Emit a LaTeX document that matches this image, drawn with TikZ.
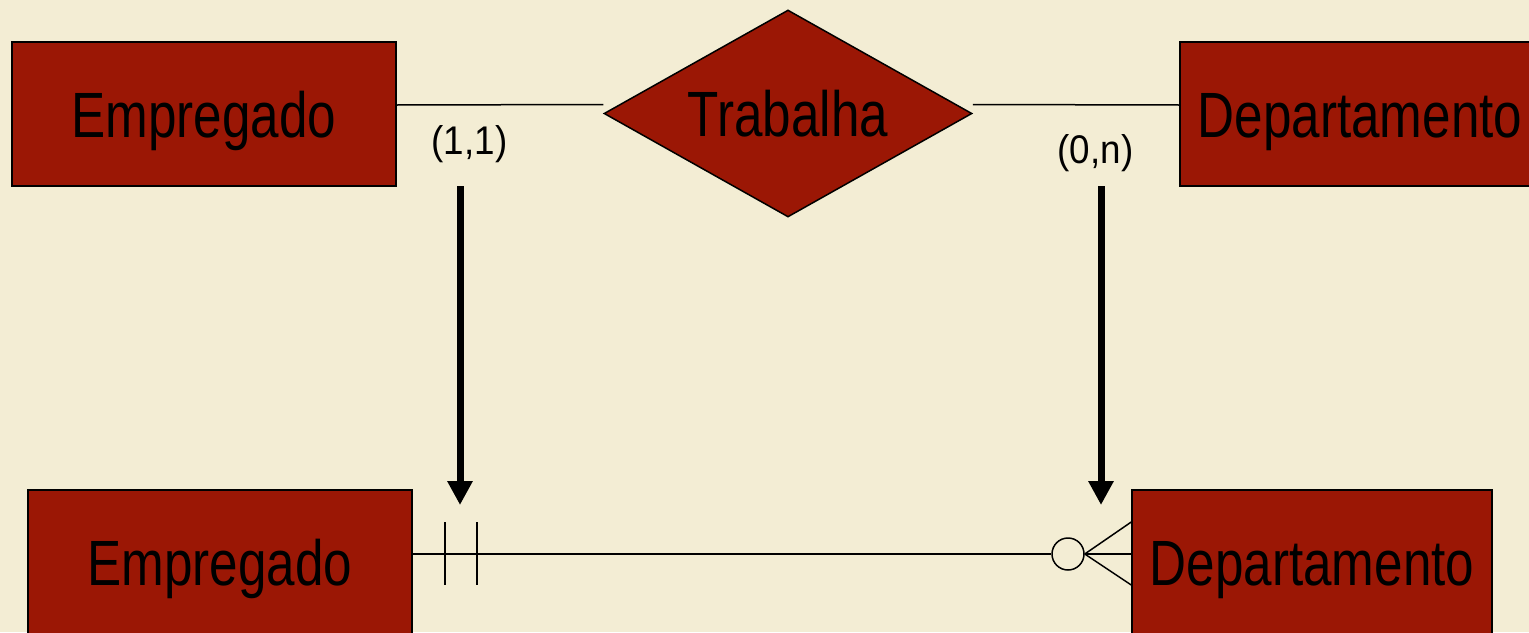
\documentclass[tikz,border=0pt]{standalone}
\usepackage{fontspec}
\setmainfont{Liberation Sans}
\usepackage{graphicx}
\usetikzlibrary{shapes.geometric,arrows.meta}
\definecolor{bg}{RGB}{243,237,212}
\definecolor{erred}{RGB}{155,23,5}
\newcommand\bigtxt{\fontsize{64}{64}\selectfont}
\newcommand\cardtxt{\fontsize{40}{40}\selectfont}
\newcommand\sqz[1]{\scalebox{0.8}[1]{#1}}
\newcommand\sqc[1]{\scalebox{0.92}[1]{#1}}
\tikzset{
  entity/.style={draw=black, line width=1.5pt, fill=erred, minimum width=384pt,
    minimum height=144pt, inner sep=0pt, text height=46pt, text depth=0pt, font=\bigtxt},
  relship/.style={draw=black, line width=1.5pt, fill=erred, diamond, aspect=1.78,
    minimum width=368pt, minimum height=207pt, inner sep=0pt, text height=46pt,
    text depth=0pt, font=\bigtxt},
  card/.style={inner sep=0pt, font=\cardtxt, anchor=base},
  conn/.style={draw=black, line width=1.5pt},
  bigarrow/.style={draw=black, line width=7pt, -{Triangle[width=24pt,length=24pt]}},
  optcirc/.style={draw=black, circle, line width=1.5pt, minimum size=32pt, inner sep=0pt, fill=bg}
}
\begin{document}
\begin{tikzpicture}[x=1pt,y=-1pt]
\useasboundingbox (0,0) rectangle (1529,632);
\clip (0,0) rectangle (1529,632);
\fill[bg] (0,0) rectangle (1529,632);

% top ER diagram
\node[entity] (emp1) at (204,114) {\sqz{Empregado}};
\node[entity, minimum width=360pt] (dep1) at (1360,114) {\sqz{Departamento}};
\node[relship] (rel) at (788,113.5) {\sqz{Trabalha}};
\draw[conn] ([yshift=9pt]emp1.east) -- ([yshift=9pt]rel.west);
\draw[conn] ([yshift=9pt]rel.east) -- ([yshift=9pt]dep1.west);
\node[card] (c11) at (469.5,154) {\sqc{(1,1)}};
\node[card] (c0n) at (1095.5,163) {\sqc{(0,n)}};

% conversion arrows
\coordinate (a1s) at (460,186);
\coordinate (a1e) at (460,505);
\coordinate (a2s) at (1101,186);
\coordinate (a2e) at (1101,505);
\draw[bigarrow] (a1s) -- (a1e);
\draw[bigarrow] (a2s) -- (a2e);

% bottom crow's foot diagram
\node[entity] (emp2) at (220,562) {\sqz{Empregado}};
\node[entity, minimum width=360pt] (dep2) at (1312,562) {\sqz{Departamento}};
\node[optcirc] (circ) at (1068,554) {};
\draw[conn] ([yshift=8pt]emp2.east) -- (circ.west);
\draw[conn] (circ.east) -- ([yshift=8pt]dep2.west);
\draw[conn] (circ.east) -- ([yshift=40pt]dep2.west);
\draw[conn] (circ.east) -- ([yshift=-23pt]dep2.west);
\draw[conn] ([xshift=32pt,yshift=40pt]emp2.east) -- ([xshift=32pt,yshift=-23pt]emp2.east);
\draw[conn] ([xshift=64pt,yshift=40pt]emp2.east) -- ([xshift=64pt,yshift=-23pt]emp2.east);
\end{tikzpicture}
\end{document}
